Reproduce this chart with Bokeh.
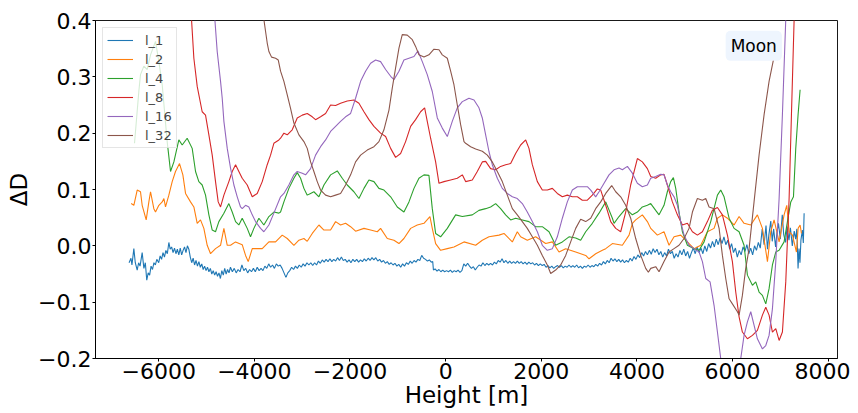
from bokeh.plotting import figure
from bokeh.models import (Range1d, FixedTicker, Legend, LegendItem, Label,
                          CustomJSTickFormatter)
from bokeh.embed import file_html
from bokeh.resources import INLINE

# ---------------- data ----------------
x_ticks = [-6000, -4000, -2000, 0, 2000, 4000, 6000, 8000]
x_tick_labels = ["\u22126000", "\u22124000", "\u22122000", "0", "2000", "4000", "6000", "8000"]
y_ticks = [-0.2, -0.1, 0.0, 0.1, 0.2, 0.3, 0.4]
y_tick_labels = ["\u22120.2", "\u22120.1", "0.0", "0.1", "0.2", "0.3", "0.4"]

series_names = ["l_1", "l_2", "l_4", "l_8", "l_16", "l_32"]

l1_x = [-6620, -6580, -6560, -6520, -6490, -6450, -6420, -6390, -6346, -6310, -6280, -6250, -6220, -6190,
        -6160, -6130, -6100, -6070, -6040, -6000, -5970, -5940, -5910, -5880, -5850, -5820, -5788, -5760,
        -5730, -5700, -5670, -5640, -5610, -5580, -5550, -5520, -5490, -5460, -5430, -5400, -5370, -5340,
        -5310, -5280, -5250, -5220, -5190, -5160, -5130, -5100, -5070, -5040, -5010, -4980, -4950, -4920,
        -4890, -4860, -4830, -4800, -4770, -4740, -4710, -4680, -4650, -4620, -4590, -4560, -4530, -4500,
        -4460, -4420, -4380, -4340, -4300, -4260, -4220, -4180, -4140, -4100, -4060, -4020, -3980, -3940,
        -3900, -3860, -3820, -3780, -3740, -3700, -3660, -3620, -3580, -3540, -3500, -3460, -3420, -3380,
        -3340, -3300, -3260, -3220, -3180, -3140, -3100, -3060, -3020, -2980, -2940, -2900, -2860, -2820,
        -2780, -2740, -2700, -2660, -2620, -2580, -2540, -2500, -2460, -2420, -2380, -2340, -2300, -2260,
        -2220, -2180, -2140, -2100, -2060, -2020, -1980, -1940, -1900, -1860, -1820, -1780, -1740, -1700,
        -1660, -1620, -1580, -1540, -1500, -1460, -1420, -1380, -1340, -1300, -1260, -1220, -1180, -1140,
        -1100, -1060, -1020, -980, -940, -900, -860, -820, -780, -740, -700, -660, -620, -580, -540, -500,
        -460, -420, -380, -340, -300, -270, -255, -220, -180, -140, -100, -60, -20, 20, 60, 100, 140, 180,
        220, 260, 300, 340, 380, 420, 460, 500, 540, 580, 620, 660, 700, 740, 780, 820, 860, 900, 940, 980,
        1020, 1060, 1100, 1140, 1180, 1220, 1260, 1300, 1340, 1380, 1420, 1460, 1500, 1540, 1580, 1620,
        1660, 1700, 1740, 1780, 1820, 1860, 1900, 1940, 1980, 2020, 2060, 2100, 2140, 2180, 2220, 2260,
        2300, 2340, 2380, 2420, 2460, 2500, 2540, 2580, 2620, 2660, 2700, 2740, 2780, 2820, 2860, 2900,
        2940, 2980, 3020, 3060, 3100, 3140, 3180, 3220, 3260, 3300, 3340, 3380, 3420, 3460, 3500, 3540,
        3580, 3620, 3660, 3700, 3740, 3780, 3820, 3860, 3900, 3940, 3980, 4020, 4060, 4100, 4140, 4180,
        4220, 4260, 4300, 4340, 4380, 4420, 4460, 4500, 4540, 4580, 4620, 4660, 4700, 4740, 4780, 4820,
        4860, 4900, 4940, 4980, 5020, 5060, 5100, 5140, 5180, 5220, 5260, 5300, 5340, 5380, 5420, 5460,
        5500, 5540, 5580, 5620, 5660, 5700, 5740, 5780, 5820, 5860, 5900, 5940, 5980, 6020, 6060, 6100,
        6140, 6180, 6220, 6260, 6300, 6340, 6380, 6420, 6460, 6500, 6540, 6580, 6620, 6660, 6700, 6730,
        6760, 6800, 6830, 6860, 6900, 6930, 6960, 7000, 7040, 7070, 7110, 7140, 7180, 7210, 7250, 7290,
        7320, 7345, 7370, 7390, 7410, 7430, 7460, 7480, 7497]
l1_y = [-0.030, -0.022, -0.034, -0.005, -0.030, -0.043, -0.030, -0.036, -0.012, -0.040, -0.030, -0.061,
        -0.048, -0.052, -0.036, -0.042, -0.030, -0.034, -0.024, -0.030, -0.018, -0.024, -0.012, -0.020,
        -0.008, -0.014, 0.006, -0.006, -0.002, -0.012, -0.004, -0.014, -0.006, -0.016, -0.004, -0.016,
        -0.008, -0.002, -0.012, 0.000, -0.006, -0.020, -0.030, -0.022, -0.034, -0.026, -0.036, -0.028,
        -0.038, -0.032, -0.042, -0.036, -0.044, -0.038, -0.046, -0.040, -0.050, -0.044, -0.052, -0.046,
        -0.054, -0.048, -0.058, -0.044, -0.052, -0.040, -0.050, -0.042, -0.048, -0.038, -0.046, -0.040,
        -0.048, -0.042, -0.046, -0.034, -0.044, -0.040, -0.048, -0.042, -0.046, -0.040, -0.046, -0.038,
        -0.044, -0.040, -0.044, -0.036, -0.040, -0.032, -0.038, -0.034, -0.040, -0.032, -0.036, -0.034,
        -0.040, -0.048, -0.056, -0.048, -0.044, -0.038, -0.042, -0.036, -0.040, -0.034, -0.038, -0.032,
        -0.036, -0.030, -0.034, -0.030, -0.035, -0.030, -0.034, -0.027, -0.031, -0.025, -0.029, -0.024,
        -0.028, -0.023, -0.028, -0.024, -0.027, -0.021, -0.026, -0.020, -0.026, -0.024, -0.029, -0.025,
        -0.030, -0.024, -0.028, -0.024, -0.029, -0.025, -0.028, -0.023, -0.027, -0.022, -0.026, -0.021,
        -0.025, -0.021, -0.027, -0.024, -0.029, -0.026, -0.031, -0.028, -0.033, -0.030, -0.034, -0.031,
        -0.036, -0.033, -0.038, -0.032, -0.036, -0.030, -0.033, -0.027, -0.031, -0.026, -0.029, -0.024,
        -0.026, -0.017, -0.022, -0.024, -0.027, -0.025, -0.029, -0.028, -0.043, -0.041, -0.045, -0.042,
        -0.046, -0.043, -0.046, -0.044, -0.046, -0.043, -0.047, -0.044, -0.046, -0.043, -0.047, -0.044,
        -0.032, -0.036, -0.031, -0.036, -0.040, -0.037, -0.043, -0.038, -0.034, -0.036, -0.030, -0.035,
        -0.031, -0.034, -0.031, -0.034, -0.029, -0.032, -0.026, -0.029, -0.023, -0.030, -0.026, -0.031,
        -0.027, -0.031, -0.028, -0.031, -0.027, -0.031, -0.028, -0.032, -0.029, -0.033, -0.029, -0.032,
        -0.030, -0.034, -0.031, -0.035, -0.032, -0.035, -0.033, -0.038, -0.035, -0.039, -0.036, -0.040,
        -0.037, -0.035, -0.038, -0.035, -0.039, -0.036, -0.038, -0.034, -0.038, -0.035, -0.038, -0.034,
        -0.039, -0.036, -0.040, -0.036, -0.038, -0.034, -0.038, -0.035, -0.037, -0.033, -0.036, -0.031,
        -0.034, -0.028, -0.032, -0.026, -0.030, -0.022, -0.027, -0.023, -0.028, -0.024, -0.029, -0.025,
        -0.030, -0.026, -0.029, -0.022, -0.027, -0.019, -0.024, -0.016, -0.021, -0.012, -0.018, -0.010,
        -0.016, -0.008, -0.015, -0.005, -0.012, -0.006, -0.016, -0.010, -0.020, -0.012, -0.018, -0.006,
        -0.014, -0.010, -0.022, -0.014, -0.020, -0.008, -0.016, -0.006, -0.018, -0.010, -0.022, -0.012,
        -0.004, -0.014, -0.002, -0.012, -0.004, -0.014, 0.000, -0.010, 0.004, -0.004, 0.008, -0.002,
        0.012, 0.002, 0.014, 0.004, 0.016, 0.002, 0.010, -0.006, 0.004, -0.012, -0.004, -0.020, -0.008,
        -0.016, -0.002, -0.010, 0.002, -0.014, -0.004, -0.016, 0.000, -0.008, 0.006, -0.004, 0.030, 0.002,
        0.036, -0.006, 0.020, 0.044, 0.008, 0.030, -0.002, 0.024, 0.040, 0.012, 0.055, 0.020, 0.006,
        0.034, 0.010, 0.032, 0.000, 0.026, 0.012, 0.030, -0.040, -0.005, -0.030, 0.010, 0.028, 0.005,
        0.058]

l2_x = [-6576, -6520, -6450, -6381, -6346, -6262, -6206, -6171, -6102, -6067, -5997, -5927, -5892, -5858,
        -5788, -5718, -5649, -5565, -5495, -5439, -5335, -5265, -5195, -5126, -5056, -4986, -4916, -4812,
        -4707, -4637, -4567, -4498, -4393, -4254, -4184, -4128, -4044, -3975, -3835, -3696, -3556, -3417,
        -3312, -3173, -3068, -2964, -2894, -2789, -2650, -2545, -2406, -2301, -2197, -2092, -1987, -1883,
        -1708, -1569, -1429, -1360, -1220, -1081, -976, -872, -732, -593, -453, -328, -279, -209, -105, 35,
        174, 384,
        628, 767, 907, 1116, 1220, 1395, 1499, 1569, 1708, 1883, 2092, 2232, 2371, 2511, 2720, 2929, 2999,
        3138, 3278, 3348, 3487, 3696, 3836, 3906, 3975, 4114, 4219,
        4289, 4428, 4567, 4672, 4777, 4916, 5056, 5195, 5335, 5474, 5614, 5684, 5788, 5893, 6032, 6137, 6241,
        6381, 6520, 6625, 6730, 6799, 6869, 6974, 7078, 7134, 7183, 7253, 7336, 7371, 7413, 7441]
l2_y = [0.075, 0.072, 0.099, 0.096, 0.072, 0.046, 0.078, 0.096, 0.066, 0.060, 0.072, 0.078, 0.084, 0.069,
        0.090, 0.114, 0.132, 0.146, 0.126, 0.093, 0.078, 0.069, 0.040, 0.046, 0.031, 0.001, -0.014, -0.005,
        0.001, 0.031, 0.001, 0.001, 0.007, 0.002, -0.017, -0.028, -0.005, -0.005, -0.005, 0.007, 0.007, 0.019,
        0.013, 0.001, 0.010, 0.013, 0.008, 0.022, 0.037, 0.028, 0.028, 0.043, 0.037, 0.040, 0.034, 0.026,
        0.031, 0.028, 0.025, 0.031, 0.013, 0.010, 0.004, 0.013, 0.031, 0.037, 0.040, 0.052, 0.031, 0.004,
        -0.008, -0.005, -0.002, 0.007,
        0.001, 0.010, 0.016, 0.019, 0.022, 0.007, 0.025, 0.016, 0.010, 0.016, 0.004, 0.007, -0.011, -0.005,
        -0.011, -0.017, -0.023, -0.014, -0.008, -0.005, 0.004, 0.001, 0.019, 0.040, 0.046, 0.055, 0.043,
        0.031, 0.019, 0.025, 0.001, 0.016, 0.019, 0.007, -0.005, 0.001, 0.025, 0.031, 0.049, 0.055, 0.049,
        0.037, 0.052, 0.040, 0.037, 0.055, 0.031, -0.028, 0.025, 0.046, 0.007, 0.055, 0.072, 0.025, 0.019,
        -0.011, 0.031, 0.037, 0.022]

l4_x = [-6506, -6416, -6381, -6311, -6241, -6171, -6067, -5997, -5927, -5823, -5753, -5683, -5579, -5509,
        -5405, -5300, -5230, -5161, -5091, -5021, -4951, -4881, -4812, -4742, -4637, -4533, -4463, -4393,
        -4324, -4254, -4149, -4080, -4010, -3905, -3801, -3696, -3592, -3487,
        -3452, -3382, -3278, -3173, -3103, -3033, -2964, -2894, -2824, -2755, -2650, -2545, -2406, -2266,
        -2162, -2057, -1918, -1813, -1708, -1604, -1499, -1395, -1290, -1150, -1011, -872, -767, -662, -558,
        -453, -349, -279, -209, -105, 35, 209, 349,
        558, 697, 837, 941, 1046, 1150, 1255, 1360, 1464, 1604, 1743, 1883, 2022, 2162, 2301, 2441, 2580,
        2720, 2824, 2929, 3068, 3208, 3348, 3487, 3522, 3626, 3766, 3905, 4010, 4114, 4219,
        4289, 4393, 4463, 4567, 4637, 4707, 4763, 4812, 4881, 4951, 5056, 5195, 5300, 5405, 5544, 5684,
        5753, 5823, 5928, 6032, 6137, 6241, 6311, 6416, 6485, 6555, 6625, 6695, 6764, 6834, 6904, 6974,
        7078, 7148, 7218, 7274, 7322, 7371, 7413]
l4_y = [0.182, 0.274, 0.304, 0.319, 0.313, 0.339, 0.363, 0.327, 0.286, 0.185, 0.132, 0.149, 0.188, 0.179,
        0.191, 0.173, 0.132, 0.114, 0.108, 0.090, 0.055, 0.028, 0.025, 0.043, 0.058, 0.075, 0.060, 0.043,
        0.037, 0.049, 0.031, 0.016, 0.031, 0.049, 0.037, 0.052, 0.060, 0.058,
        0.060, 0.078, 0.102, 0.120, 0.130, 0.120, 0.102, 0.090, 0.093, 0.096, 0.087, 0.108, 0.126, 0.133,
        0.120, 0.108, 0.096, 0.084, 0.102, 0.117, 0.114, 0.102, 0.099, 0.087, 0.069, 0.060, 0.078, 0.102,
        0.120, 0.126, 0.125, 0.066, 0.022, 0.016, 0.031, 0.055, 0.052,
        0.055, 0.063, 0.066, 0.069, 0.075, 0.066, 0.055, 0.046, 0.049, 0.046, 0.043, 0.034, 0.034, 0.025,
        0.001, 0.007, 0.016, 0.014, 0.010, 0.025, 0.040, 0.058, 0.078, 0.049, 0.040, 0.052, 0.066, 0.055,
        0.060, 0.069, 0.072,
        0.075, 0.063, 0.055, 0.072, 0.096, 0.114, 0.121, 0.102, 0.060, 0.025, 0.001, -0.005, -0.008, 0.007,
        0.043, 0.090, 0.099, 0.087, 0.049, 0.031, 0.025, 0.001, -0.052, -0.070, -0.064, -0.082, -0.088,
        -0.103, -0.076, -0.034, -0.011, -0.008, 0.007, 0.043, 0.078, 0.087, 0.173, 0.233, 0.277]

l8_x = [-5420, -5314, -5265, -5195, -5091, -5021, -4951, -4881, -4812, -4756, -4707, -4637, -4533, -4463,
        -4393, -4324, -4254, -4149, -4044, -3940, -3835, -3731, -3661, -3592, -3487,
        -3452, -3382, -3312, -3208, -3103, -2998, -2894, -2789, -2720, -2615, -2510, -2406, -2301, -2197,
        -2057, -1918, -1813, -1708, -1604, -1499, -1360, -1255, -1150, -1046, -941, -837, -732, -628, -523,
        -439, -384, -314, -209, -139, -35, 105, 244, 349,
        418, 558, 662, 767, 837, 941, 1046, 1150, 1255, 1360, 1464, 1569, 1674, 1743, 1813, 1918, 2022, 2127,
        2232, 2336, 2441, 2545, 2650, 2755, 2859, 2964, 3068, 3173, 3243, 3348, 3452, 3557, 3661, 3766, 3870,
        4010, 4114, 4219,
        4289, 4393, 4498, 4567, 4637, 4742, 4847, 4951, 5056, 5161, 5265, 5370, 5474, 5579, 5684, 5788, 5893,
        5997, 6067, 6137, 6206, 6311, 6416, 6520, 6625, 6695, 6764, 6834, 6904, 6974, 7043, 7113, 7183, 7232,
        7288, 7400]
l8_y = [0.48, 0.402, 0.333, 0.283, 0.238, 0.232, 0.197, 0.161, 0.114, 0.078, 0.069, 0.090, 0.114, 0.132,
        0.144, 0.132, 0.120, 0.108, 0.087, 0.093, 0.114, 0.144, 0.161, 0.182, 0.188,
        0.191, 0.200, 0.197, 0.206, 0.227, 0.232, 0.235, 0.229, 0.224, 0.229, 0.235, 0.250, 0.249, 0.253,
        0.257, 0.259, 0.253, 0.238, 0.224, 0.212, 0.200, 0.194, 0.173, 0.157, 0.164, 0.185, 0.212, 0.224,
        0.238, 0.245, 0.221, 0.191, 0.149, 0.111, 0.114, 0.117, 0.120, 0.126,
        0.114, 0.117, 0.132, 0.149, 0.150, 0.137, 0.135, 0.141, 0.144, 0.146, 0.164, 0.179, 0.188, 0.173,
        0.144, 0.114, 0.099, 0.099, 0.102, 0.093, 0.087, 0.090, 0.087, 0.087, 0.081, 0.081, 0.090, 0.101,
        0.099, 0.072, 0.043, 0.031, 0.025, 0.060, 0.108, 0.155, 0.149, 0.137,
        0.123, 0.120, 0.126, 0.127, 0.108, 0.078, 0.055, 0.037, 0.040, 0.025, 0.019, 0.025, 0.043, 0.063,
        0.068, 0.055, 0.019, -0.028, -0.082, -0.126, -0.153, -0.165, -0.159, -0.150, -0.123, -0.109, -0.123,
        -0.153, -0.147, -0.168, -0.153, -0.064, 0.084, 0.233, 0.402, 0.75]

l16_x = [-4900, -4826, -4777, -4707, -4672, -4637, -4567, -4498, -4428, -4358, -4289, -4254, -4184, -4115,
         -4044, -3975, -3870, -3801, -3696, -3592,
         -3452, -3382, -3278, -3173, -3103, -2998, -2929, -2824, -2720, -2615, -2510, -2406, -2301, -2197,
         -2092, -1987, -1883, -1778, -1674, -1569, -1464, -1360, -1255, -1150, -1081, -976, -872, -767, -662,
         -579, -488, -384, -279, -174, -70, 35, 139, 244, 349,
         418, 488, 593, 697, 767, 837, 907, 976, 1081, 1185, 1290, 1395, 1499, 1604, 1708, 1813, 1918, 2022,
         2127, 2232, 2336, 2441, 2545, 2650, 2755, 2859, 2964, 3034, 3138, 3208, 3313, 3417, 3522, 3626, 3696,
         3801, 3905, 4010, 4114, 4219,
         4289, 4393, 4498, 4567, 4637, 4707, 4777, 4847, 4916, 4986, 5091, 5195, 5300, 5370, 5440, 5530, 5614,
         5684, 5753, 5962, 6172, 6241, 6311, 6381, 6451, 6520, 6625, 6695, 6764, 6834, 6904, 6974, 7043, 7113,
         7200]
l16_y = [0.46, 0.402, 0.345, 0.292, 0.262, 0.221, 0.173, 0.138, 0.108, 0.087, 0.069, 0.066, 0.072, 0.069,
         0.055, 0.043, 0.031, 0.025, 0.037, 0.058,
         0.087, 0.093, 0.108, 0.126, 0.132, 0.129, 0.126, 0.137, 0.161, 0.176, 0.188, 0.203, 0.212, 0.221,
         0.229, 0.235, 0.262, 0.292, 0.310, 0.324, 0.330, 0.327, 0.313, 0.301, 0.295, 0.310, 0.330, 0.333,
         0.336, 0.346, 0.327, 0.304, 0.274, 0.227, 0.209, 0.194, 0.221, 0.245, 0.256,
         0.259, 0.262, 0.259, 0.245, 0.227, 0.197, 0.167, 0.144, 0.120, 0.102, 0.093, 0.087, 0.084, 0.075,
         0.060, 0.043, 0.025, 0.001, -0.008, -0.005, 0.016, 0.049, 0.078, 0.099, 0.105, 0.105, 0.105, 0.099,
         0.087, 0.096, 0.111, 0.126, 0.135, 0.138, 0.135, 0.141, 0.129, 0.111, 0.105, 0.108,
         0.120, 0.123, 0.127, 0.126, 0.108, 0.096, 0.087, 0.072, 0.043, 0.019, 0.001, -0.005, -0.011, -0.028,
         -0.058, -0.064, -0.106, -0.153, -0.200, -0.25, -0.200, -0.159, -0.135, -0.117, -0.141, -0.165,
         -0.183, -0.177, -0.159, -0.112, -0.028, 0.084, 0.233, 0.402, 0.62]

l32_x = [-3870, -3801, -3766, -3731, -3696, -3640, -3556, -3501,
         -3452, -3382, -3312, -3243, -3173, -3068, -2964, -2894, -2824, -2755, -2685, -2615, -2510, -2406,
         -2301, -2197, -2092, -1987, -1883, -1778, -1639, -1499, -1395, -1290, -1185, -1116, -1046, -976,
         -907, -802, -697, -628, -558, -453, -349, -244, -139, -70, 35, 105, 174, 244, 314, 384,
         418, 523, 628, 767, 872, 976, 1081, 1185, 1290, 1395, 1499, 1604, 1708, 1813, 1918, 2022, 2127, 2197,
         2301, 2406, 2511, 2615, 2720, 2824, 2929, 3034, 3138, 3243, 3348, 3473, 3557, 3661, 3766, 3870, 3975,
         4080, 4184, 4240,
         4289, 4393, 4463, 4567, 4672, 4777, 4881, 4986, 5091, 5161, 5265, 5370, 5440, 5509, 5614, 5719, 5788,
         5858, 5928, 5997, 6102, 6137, 6206, 6276, 6346, 6450, 6555, 6660, 6764, 6855]
l32_y = [0.46, 0.402, 0.381, 0.360, 0.345, 0.335, 0.333, 0.330,
         0.310, 0.292, 0.268, 0.244, 0.218, 0.197, 0.185, 0.173, 0.149, 0.132, 0.114, 0.099, 0.090, 0.087,
         0.090, 0.093, 0.108, 0.126, 0.149, 0.161, 0.170, 0.176, 0.185, 0.206, 0.241, 0.280, 0.316, 0.351,
         0.375, 0.374, 0.366, 0.354, 0.339, 0.335, 0.339, 0.349, 0.348, 0.339, 0.333, 0.310, 0.286, 0.250,
         0.215, 0.185,
         0.182, 0.176, 0.172, 0.168, 0.161, 0.149, 0.132, 0.114, 0.090, 0.066, 0.055, 0.043, 0.031, 0.016,
         0.001, -0.017, -0.034, -0.049, -0.043, -0.034, -0.017, 0.007, 0.031, 0.047, 0.043, 0.049, 0.066,
         0.078, 0.093, 0.107, 0.096, 0.087, 0.072, 0.049, 0.013, -0.017, -0.040, -0.047,
         -0.040, -0.037, -0.046, -0.028, -0.011, -0.005, 0.001, 0.013, 0.031, 0.060, 0.084, 0.081, 0.084,
         0.069, 0.066, 0.031, -0.017, -0.058, -0.094, -0.103, -0.117, -0.123, -0.088, -0.040, -0.005, 0.078,
         0.161, 0.233, 0.292, 0.330]

annotation_text = "Moon"
annotation_x = 6444
annotation_y = 0.355

colors = ["#1f77b4", "#ff7f0e", "#2ca02c", "#d62728", "#9467bd", "#8c564b"]
xs = [l1_x, l2_x, l4_x, l8_x, l16_x, l32_x]
ys = [l1_y, l2_y, l4_y, l8_y, l16_y, l32_y]

FONT = "DejaVu Sans"

p = figure(width=850, height=410,
           x_range=Range1d(-7322, 8195), y_range=Range1d(-0.2, 0.4),
           output_backend="svg", toolbar_location=None,
           min_border_left=95, min_border_right=13, min_border_top=20, min_border_bottom=52)

renderers = []
for x, y, c in zip(xs, ys, colors):
    r = p.line(x, y, line_color=c, line_width=1.1)
    renderers.append(r)

# axes styling (matplotlib-like)
p.xgrid.visible = False
p.ygrid.visible = False
p.outline_line_color = "black"
p.outline_line_width = 1
p.outline_line_alpha = 0.9

p.xaxis.ticker = FixedTicker(ticks=x_ticks)
p.yaxis.ticker = FixedTicker(ticks=y_ticks)
fmt_code = ("const i = tick_values.findIndex(t => Math.abs(t - tick) < 1e-6); "
            "return i >= 0 ? tick_texts[i] : '';")
p.xaxis.formatter = CustomJSTickFormatter(
    args=dict(tick_values=x_ticks, tick_texts=x_tick_labels), code=fmt_code)
p.yaxis.formatter = CustomJSTickFormatter(
    args=dict(tick_values=y_ticks, tick_texts=y_tick_labels), code=fmt_code)

for ax in (p.xaxis[0], p.yaxis[0]):
    ax.axis_line_color = "black"
    ax.major_tick_line_color = "black"
    ax.major_tick_out = 3
    ax.major_tick_in = 0
    ax.minor_tick_line_color = None
    ax.major_label_text_font = FONT
    ax.major_label_text_font_size = "22px"
    ax.major_label_text_color = "black"
    ax.major_label_standoff = 1
    ax.axis_label_text_font = FONT
    ax.axis_label_text_font_size = "23px"
    ax.axis_label_text_font_style = "normal"
    ax.axis_label_text_color = "black"

p.xaxis.axis_label = "Height [m]"
p.yaxis.axis_label = "\u0394D"
p.xaxis.axis_label_standoff = 0
p.yaxis.axis_label_standoff = 3

legend = Legend(items=[LegendItem(label=n, renderers=[r]) for n, r in zip(series_names, renderers)],
                location="top_left", margin=7, padding=4, spacing=3,
                glyph_width=26, glyph_height=16, label_height=16, label_standoff=12,
                label_text_font=FONT, label_text_font_size="13px",
                border_line_color="#cccccc", border_line_width=1,
                background_fill_color="white", background_fill_alpha=0.8)
p.add_layout(legend)

moon = Label(x=annotation_x, y=annotation_y, text=annotation_text,
             text_align="center", text_baseline="middle",
             text_font=FONT, text_font_size="17px", text_color="black",
             background_fill_color="#eef5fe", background_fill_alpha=1.0,
             padding=5, border_radius=5)
p.add_layout(moon)

open("out.html", "w").write(file_html(p, INLINE))
